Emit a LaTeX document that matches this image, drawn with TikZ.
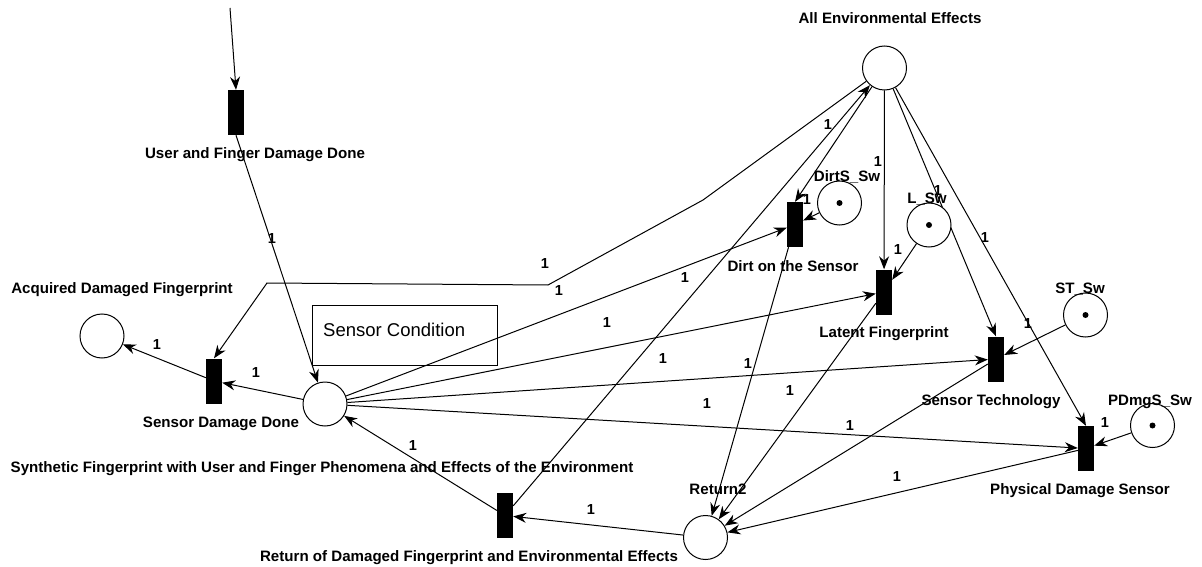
\documentclass[tikz,border=0pt]{standalone}
\usepackage{fontspec}
\setmainfont{Liberation Sans}
\usetikzlibrary{arrows.meta,backgrounds}
\begin{document}
\begin{tikzpicture}[x=1pt,y=-1pt,
  place/.style={circle,draw,line width=1pt,minimum size=44pt,inner sep=0pt,fill=white},
  trans/.style={rectangle,fill=black,minimum width=16pt,minimum height=45pt,inner sep=0pt},
  lbl/.style={font=\bfseries\fontsize{15.1}{18}\selectfont,inner sep=0pt,anchor=base},
  wt/.style={font=\bfseries\fontsize{14.5}{17}\selectfont,inner sep=0pt,anchor=base},
  arc/.style={line width=1pt,-{Stealth[length=13pt,width=10pt]}},
  tok/.style={circle,fill=black,minimum size=6pt,inner sep=0pt}]
\useasboundingbox (0,0) rectangle (1202,567);
% transitions
\node[trans] (tuser) at (236,112.5) {};
\node[trans] (sdd) at (214,381) {};
\node[trans] (dirt) at (795,224.5) {};
\node[trans] (lat) at (884,292) {};
\node[trans] (st) at (996,359) {};
\node[trans] (pds) at (1086,448.5) {};
\node[trans] (ret) at (505,515.5) {};
% places
\node[place] (env) at (884.5,68) {};
\node[place] (acq) at (102,336) {};
\node[place] (psc) at (325,404) {};
\node[place] (ret2) at (705.5,537.5) {};
\node[place] (dsw) at (839.5,203) {};
\node[place] (lsw) at (929,225) {};
\node[place] (stsw) at (1085.5,315) {};
\node[place] (pdsw) at (1152.5,425.5) {};
\node[tok] (dswt) at (dsw) {};
\node[tok] (lswt) at (lsw) {};
\node[tok] (stswt) at (stsw) {};
\node[tok] (pdswt) at (pdsw) {};
% sensor condition box
\node[draw,line width=1pt,minimum width=185pt,minimum height=60pt,inner sep=0pt,anchor=north west] (scbox) at (312,305) {};
\node[font=\fontsize{18.5}{22}\selectfont,inner sep=0pt,anchor=base west] (sctext) at (323,336) {Sensor Condition};
% labels
\node[lbl] (lenv) at (890,24) {All Environmental Effects};
\node[lbl] (ltuser) at (255,159) {User and Finger Damage Done};
\node[lbl] (lacq) at (122,293) {Acquired Damaged Fingerprint};
\node[lbl] (lsdd) at (221,427) {Sensor Damage Done};
\node[lbl] (lpsc) at (322,472) {Synthetic Fingerprint with User and Finger Phenomena and Effects of the Environment};
\node[lbl] (lret) at (469,561) {Return of Damaged Fingerprint and Environmental Effects};
\node[lbl] (lret2) at (718,494) {Return2};
\node[lbl] (ldsw) at (847,181) {DirtS\_Sw};
\node[lbl] (ldirt) at (793,271) {Dirt on the Sensor};
\node[lbl] (llsw) at (927,203) {L\_Sw};
\node[lbl] (llat) at (884,337) {Latent Fingerprint};
\node[lbl] (lstsw) at (1080,293) {ST\_Sw};
\node[lbl] (lst) at (991,405) {Sensor Technology};
\node[lbl] (lpdsw) at (1150,405) {PDmgS\_Sw};
\node[lbl] (lpds) at (1080,494) {Physical Damage Sensor};
% weights
\node[wt] (w1) at (272,243) {1};
\node[wt] (w2) at (157,349) {1};
\node[wt] (w3) at (256,377) {1};
\node[wt] (w4) at (545,268) {1};
\node[wt] (w5) at (559,295) {1};
\node[wt] (w6) at (685,282) {1};
\node[wt] (w7) at (607,327) {1};
\node[wt] (w8) at (663,363) {1};
\node[wt] (w9) at (748,368) {1};
\node[wt] (w10) at (790,395) {1};
\node[wt] (w11) at (707,408) {1};
\node[wt] (w12) at (850,430) {1};
\node[wt] (w13) at (897,481) {1};
\node[wt] (w14) at (413,450) {1};
\node[wt] (w15) at (591,514) {1};
\node[wt] (w16) at (828,130) {1};
\node[wt] (w17) at (878,167) {1};
\node[wt] (w18) at (807,204) {1};
\node[wt] (w19) at (898,254) {1};
\node[wt] (w20) at (938,195) {1};
\node[wt] (w21) at (985,242) {1};
\node[wt] (w22) at (1028,328) {1};
\node[wt] (w23) at (1105,427) {1};
% arcs
\coordinate (src) at (230,8);
\coordinate (c1) at (703,200);
\coordinate (c2) at (548,285);
\coordinate (c3) at (267,283);
\begin{scope}[on background layer]
\draw[arc] (src) -- (tuser.north);
\draw[arc] (tuser.south) -- (psc);
\draw[arc] (sdd) -- (acq);
\draw[arc] (psc) -- (sdd);
\draw[arc] (env) -- (c1) -- (c2) -- (c3) -- (sdd.north);
\draw[arc] (psc) -- (dirt);
\draw[arc] (ret) -- (env);
\draw[arc] (psc) -- (lat);
\draw[arc] (psc) -- (st);
\draw[arc] (dirt) -- (ret2);
\draw[arc] (lat) -- (ret2);
\draw[arc] (psc) -- (pds);
\draw[arc] (st) -- (ret2);
\draw[arc] (pds) -- (ret2);
\draw[arc] (ret) -- (psc);
\draw[arc] (ret2) -- (ret);
\draw[arc] (env) -- (dirt.north);
\draw[arc] (env) -- (lat);
\draw[arc] (dsw) -- (dirt);
\draw[arc] (lsw) -- (lat);
\draw[arc] (env) -- (st.north);
\draw[arc] (env) -- (pds.north);
\draw[arc] (stsw) -- (st);
\draw[arc] (pdsw) -- (pds);
\end{scope}
\end{tikzpicture}
\end{document}
